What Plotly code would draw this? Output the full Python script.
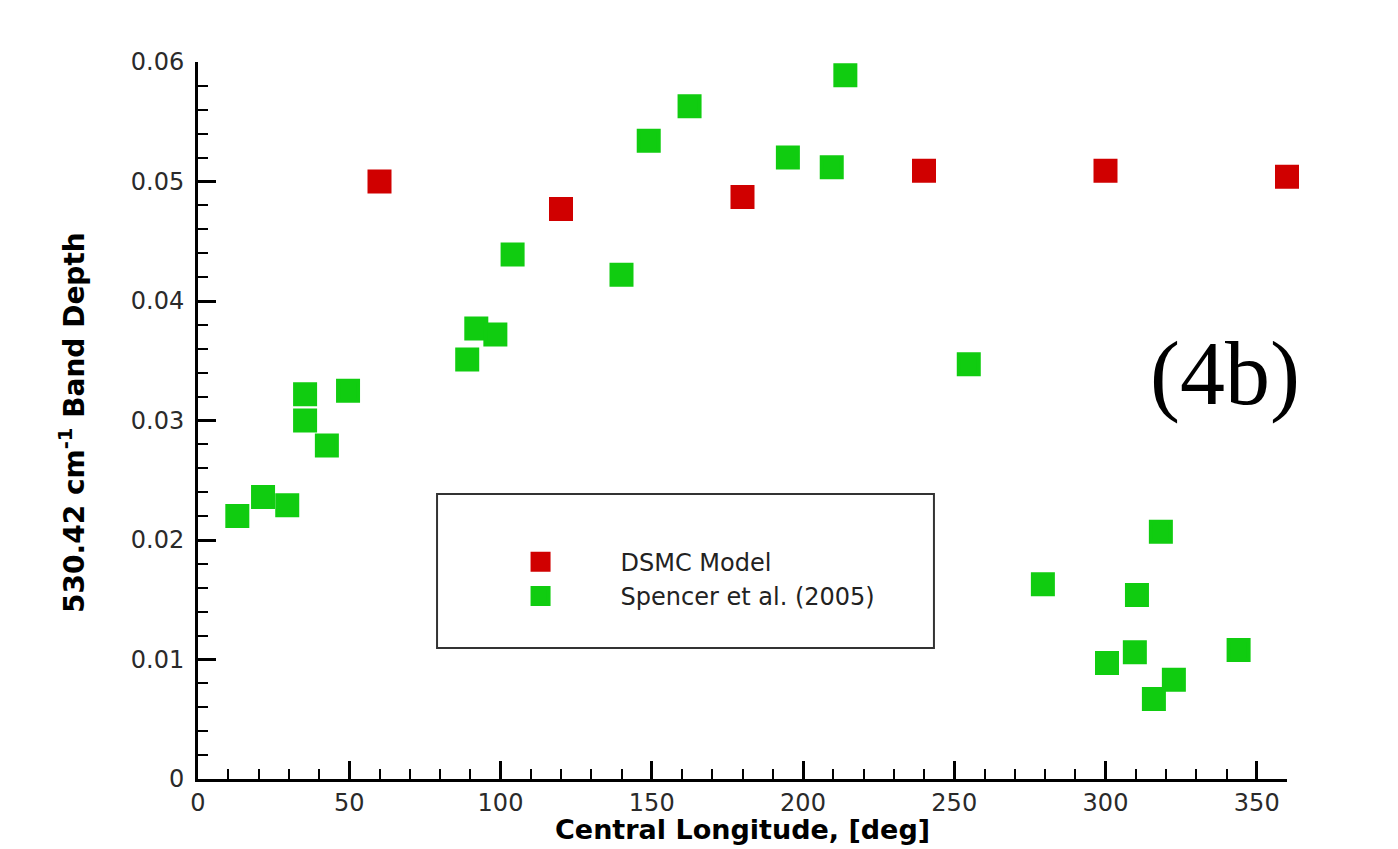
import plotly.graph_objects as go

# DSMC model
dsmc_lon = [60, 120, 180, 240, 300, 360]
dsmc_depth = [0.0500, 0.0477, 0.0487, 0.0509, 0.0509, 0.0504]

# Spencer et al. (2005)
spencer_lon = [13, 21.5, 29.5, 35.4, 35.4, 42.6, 49.6, 89, 92, 98.3, 104, 140, 149,
               162.5, 195, 209.5, 214, 254.8, 279.3, 300.5, 309.7, 310.4, 316, 318.3,
               322.6, 344]
spencer_depth = [0.0220, 0.0236, 0.0229, 0.0322, 0.0300, 0.0279, 0.0325, 0.0351,
                 0.0377, 0.0372, 0.0439, 0.0422, 0.0534, 0.0563, 0.0520, 0.0512,
                 0.0589, 0.0347, 0.0163, 0.0097, 0.0106, 0.0154, 0.0067, 0.0207,
                 0.0083, 0.0108]

RED = "#d00000"
GREEN = "#10cc10"
FONT = "DejaVu Sans"

fig = go.Figure()
fig.add_trace(go.Scatter(
    x=dsmc_lon, y=dsmc_depth, mode="markers", name="DSMC Model",
    legendgroup="a",
    marker=dict(symbol="square", size=20, color=RED, line=dict(color=RED, width=4)),
    cliponaxis=False))
fig.add_trace(go.Scatter(
    x=spencer_lon, y=spencer_depth, mode="markers", name="Spencer et al. (2005)",
    legendgroup="b",
    marker=dict(symbol="square", size=20, color=GREEN, line=dict(color=GREEN, width=4)),
    cliponaxis=False))

axis_common = dict(
    showline=True, linecolor="black", linewidth=3, mirror=False,
    showgrid=False, zeroline=False,
    ticks="inside", tickcolor="black", tickwidth=2.5, ticklen=18,
    tickfont=dict(family=FONT, size=24, color="#2a2a2a"),
)

fig.update_xaxes(range=[0, 360], dtick=50, tick0=0,
                 minor=dict(dtick=10, ticks="inside", ticklen=10, tickwidth=2, tickcolor="black"),
                 ticklabelstandoff=0, **axis_common)
fig.update_yaxes(range=[0, 0.06], dtick=0.01, tick0=0,
                 minor=dict(dtick=0.002, ticks="inside", ticklen=10, tickwidth=2, tickcolor="black"),
                 ticklabelstandoff=6, **axis_common)

fig.add_shape(type="rect", xref="paper", yref="paper",
              x0=0.2195, x1=0.6758, y0=0.1827, y1=0.3975,
              line=dict(color="#333333", width=2), fillcolor="rgba(0,0,0,0)")

fig.add_annotation(text="Central Longitude, [deg]", xref="paper", yref="paper",
                   x=0.5, y=-0.0711, xanchor="center", yanchor="middle", showarrow=False,
                   font=dict(family=FONT, size=27, color="black", weight="bold"))
fig.add_annotation(text="530.42 cm<sup>-1</sup> Band Depth", xref="paper", yref="paper",
                   x=-0.1148, y=0.498, xanchor="center", yanchor="middle", showarrow=False,
                   textangle=-90,
                   font=dict(family=FONT, size=28, color="black", weight="bold"))
fig.add_annotation(text="(4b)", xref="paper", yref="paper",
                   x=0.943, y=0.565, xanchor="center", yanchor="middle", showarrow=False,
                   font=dict(family="Liberation Serif", size=90, color="black"))

fig.update_layout(
    width=1398, height=849,
    margin=dict(l=190, r=119, t=54, b=78),
    paper_bgcolor="white", plot_bgcolor="white",
    showlegend=True,
    legend=dict(x=0.2411, y=0.2787, xanchor="left", yanchor="middle",
                bgcolor="rgba(0,0,0,0)", borderwidth=0,
                itemwidth=150, tracegroupgap=0, traceorder="grouped",
                font=dict(family=FONT, size=24, color="#222222")),
)

fig.write_html("out.html")
